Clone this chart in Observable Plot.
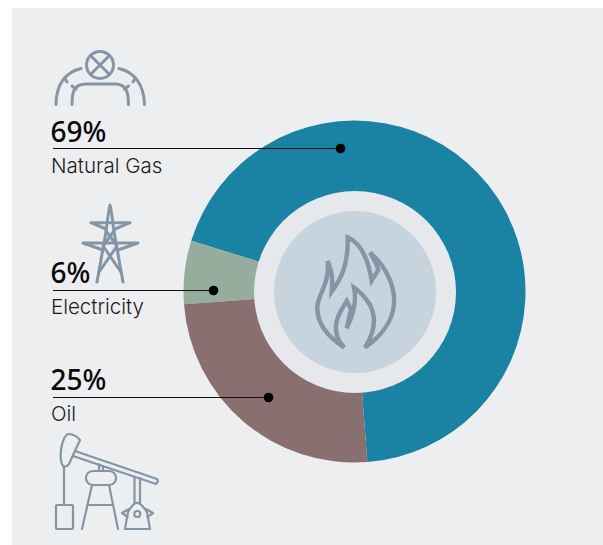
<!DOCTYPE html>
<html>
<head>
<meta charset="utf-8">
<script src="https://cdn.jsdelivr.net/npm/d3@7"></script>
<script src="https://cdn.jsdelivr.net/npm/@observablehq/plot@0.6"></script>
<style>
html,body{margin:0;padding:0;background:#fff;}
svg{display:block;}
</style>
</head>
<body>
<div id="chart"></div>
<script>
const categories = ["Natural Gas", "Electricity", "Oil"];
const shares = [69, 6, 25];
const shareLabels = ["69%", "6%", "25%"];
const sliceColors = ["#1a82a2", "#95ad9d", "#8a6f71"];
const clockwiseOrder = ["Natural Gas", "Oil", "Electricity"];

const W = 603, H = 545;
const cx = 354.5, cy = 291.5, rOuter = 171, rHole = 101, rCore = 81;
const startDeg = -72.7;
const labelX = 50, ruleX1 = 53;
const leaderY = [148, 290, 397];
const dotX = [340, 213, 268];
const pctY = [133, 274, 381];
const nameY = [166, 307, 414];
const iconStroke = "#8496a5";

const rows = categories.map((name, i) => ({
  name, share: shares[i], label: shareLabels[i],
  leaderY: leaderY[i], dotX: dotX[i], pctY: pctY[i], nameY: nameY[i]
}));

const pie = d3.pie()
  .sort((a, b) => clockwiseOrder.indexOf(a.name) - clockwiseOrder.indexOf(b.name))
  .value(d => d.share)
  .startAngle(startDeg * Math.PI / 180)
  .endAngle((startDeg + 360) * Math.PI / 180);
const arcs = pie(rows);

function svgEl(tag, attrs, parent) {
  const e = document.createElementNS("http://www.w3.org/2000/svg", tag);
  for (const k in attrs) e.setAttribute(k, attrs[k]);
  if (parent) parent.appendChild(e);
  return e;
}

function donutRender(index, scales, values) {
  const g = svgEl("g", {});
  const arc = d3.arc();
  const r1 = scales.x(cx + rOuter) - scales.x(cx);
  for (const i of index) {
    svgEl("path", {
      d: arc({innerRadius: 0, outerRadius: r1, startAngle: arcs[i].startAngle, endAngle: arcs[i].endAngle}),
      fill: scales.color(rows[i].name),
      transform: `translate(${values.x[i]},${values.y[i]})`
    }, g);
  }
  return g;
}

function iconMark(shapes, sw, k = 1, ox = 0, oy = 0, join = "round") {
  return (index, scales) => {
    const g = svgEl("g", {
      transform: `translate(${scales.x(ox)},${scales.y(oy)}) scale(${k})`,
      fill: "none", stroke: iconStroke, "stroke-width": sw / k,
      "stroke-linecap": "round", "stroke-linejoin": join
    });
    for (const s of shapes) {
      if (typeof s === "string") svgEl("path", {d: s}, g);
      else svgEl("circle", {cx: s[0], cy: s[1], r: s[2]}, g);
    }
    return g;
  };
}

const valveIcon = [
  [100, 65, 13.5],
  "M90.500 55.500L109.500 74.500M109.500 55.500L90.500 74.500",
  "M56 104.500C56 84 66 72 81 68.500",
  "M119 68.500C134 72 144 84 144.500 104.500",
  "M72 104.500C72 92 74 84 86 84L115 84C126 84 128.500 92 128.500 104.500",
  "M64.500 78L67 82M135.500 78L133 82M72 86L76 89M128.500 86L124.500 89"
];
const pylonIcon = [
  "M97 282L106 232Q108 214 110 205Q112 214 114 232L123 282",
  "M91 222.700L130 222.700M91 222.700L106 229M130 222.700L115 229",
  "M83 243L138 243M83 243L103 250M138 243L118 250",
  "M106 231L117 246L99 272M114 231L103 246L121 272"
];
const pumpIcon = [
  "M69 434C73 434 78 437 80 440L69 464Q66 468 63 466C61 463 60 458 61 450C62 442 65 434 69 434Z",
  "M75 451L157 479Q159 481 156 484L73 456",
  "M64 467L64 505",
  "M57 505L72 505Q73 505 73 506L73 528Q73 529 72 529L57 529Q56 529 56 528L56 506Q56 505 57 505Z",
  "M99 464L99 471M103 466L103 471",
  "M93 471L109 471C114 471 116 475 116 478C116 481 114 485 109 485L93 485C88 485 86 481 86 478C86 475 88 471 93 471Z",
  "M92 485L82 529M109 485L118 529M87 505L113 505",
  "M134.500 477L134.500 503M140 478L140 503",
  "M125 529L150 529L147 512Q140 502 137 503Q134 502 128 512Z",
  "M129 509L122 513L127.500 517M146 509L153 513L147.500 517",
  [137.300, 514, 3]
];
const flameIcon = [
  "M293 142C335 160 355 210 365 272L385 240C380 220 370 205 360 188C410 230 435 290 432 340C428 400 385 445 345 472C375 425 378 380 360 345C348 325 330 305 312 293C320 330 310 375 290 415L303 358L290 333C275 360 255 385 258 420C260 445 270 460 283 472C240 445 200 405 202 350C205 310 240 280 233 213C240 235 250 250 245 305C275 265 295 220 293 142Z"
];

const chart = Plot.plot({
  width: W, height: H,
  margin: 0,
  style: {background: "transparent", fontFamily: "Inter, sans-serif", overflow: "visible"},
  x: {domain: [0, W], range: [0, W], axis: null},
  y: {domain: [0, H], range: [0, H], axis: null},
  color: {domain: categories, range: sliceColors},
  marks: [
    Plot.rect([0], {x1: 12, x2: W, y1: 8, y2: H, fill: "#edeef0"}),
    Plot.dot(rows, {x: () => cx, y: () => cy, fill: "name", r: 1, render: donutRender}),
    Plot.dot([0], {x: () => cx, y: () => cy, r: rHole, fill: "#e6e8ec", stroke: "none"}),
    Plot.dot([0], {x: () => cx, y: () => cy, r: rCore, fill: "#c7d4de", stroke: "none"}),
    iconMark(valveIcon, 3),
    iconMark(pylonIcon, 3),
    iconMark(pumpIcon, 2.2),
    iconMark(flameIcon, 4.4, 1 / 3, 250, 190, "miter"),
    Plot.ruleY(rows, {y: "leaderY", x1: () => ruleX1, x2: "dotX", stroke: "#111", strokeWidth: 1.2}),
    Plot.dot(rows, {x: "dotX", y: "leaderY", r: 4.8, fill: "#000", stroke: "none"}),
    Plot.text(rows, {x: () => labelX, y: "pctY", text: "label", textAnchor: "start", fontFamily: "Noto Sans", fontSize: 28, fontWeight: 500, fill: "#0a0a0a"}),
    Plot.text(rows, {x: () => labelX + 0.5, y: "nameY", text: "name", textAnchor: "start", fontSize: 20.5, fontWeight: 300, fill: "#1c1c1c"})
  ]
});
document.getElementById("chart").appendChild(chart);
</script>
</body>
</html>
